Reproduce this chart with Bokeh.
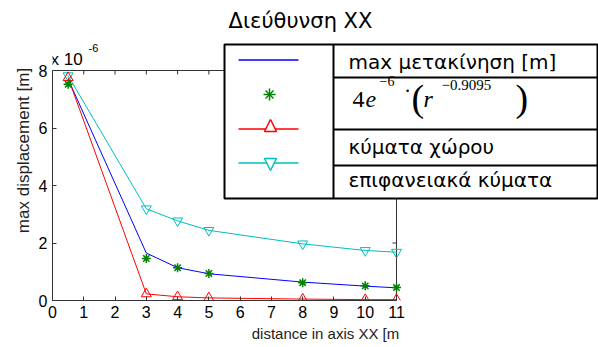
import math
from bokeh.plotting import figure
from bokeh.models import Range1d, Label, PolyAnnotation, FixedTicker
from bokeh.embed import file_html
from bokeh.resources import INLINE

# ---- data (values in units of 1e-6 m) ----
distance = [0.5, 3, 4, 5, 8, 10, 11]
max_disp = [7.70, 1.65, 1.14, 0.93, 0.64, 0.50, 0.44]
fit_vals = [7.52, 1.46, 1.14, 0.94, 0.62, 0.51, 0.45]
body_waves = [7.75, 0.23, 0.13, 0.09, 0.05, 0.03, 0.03]
surface_waves = [7.82, 3.19, 2.77, 2.44, 1.97, 1.74, 1.68]
x_ticks = list(range(12))
y_ticks = [0, 2, 4, 6, 8]
legend_labels = ["max μετακίνηση [m]", "4e−6·(r−0.9095)", "κύματα χώρου", "επιφανειακά κύματα"]
title_text = "Διεύθυνση ΧΧ"
x_label = "distance in axis XX [m"
y_label = "max displacement [m]"

BLUE = "#0000ff"
GREEN = "#008000"
RED = "#ff0000"
CYAN = "#00bfbf"
AXC = "#333333"
FONT = "Liberation Sans"
LFONT = "DejaVu Sans"
SERIF = "Liberation Serif"

# ---- geometry (pixels) ----
W, H = 598, 347
LEFT, BOTTOM_PX = 52, 300          # axes box left edge / bottom edge
AX_W, AX_H = 344, 230              # axes box size
x0, x1 = x_ticks[0], x_ticks[-1]
y0, y1 = y_ticks[0], y_ticks[-1]
frame_w = W - LEFT
frame_h = BOTTOM_PX
x_end = x0 + (x1 - x0) * frame_w / AX_W
y_end = y0 + (y1 - y0) * frame_h / AX_H

p = figure(width=W, height=H, x_range=Range1d(x0, x_end), y_range=Range1d(y0, y_end),
           output_backend="svg", toolbar_location=None,
           min_border_left=LEFT, min_border_right=0, min_border_top=0,
           min_border_bottom=H - BOTTOM_PX)
p.grid.visible = False
p.outline_line_color = None
p.background_fill_color = "white"
p.border_fill_color = "white"

for ax in (p.xaxis[0], p.yaxis[0]):
    ax.axis_line_color = AXC
    ax.major_tick_line_color = AXC
    ax.major_tick_in = 4
    ax.major_tick_out = 0
    ax.minor_tick_line_color = None
    ax.major_label_text_font = FONT
    ax.major_label_text_font_size = "16px"
    ax.major_label_text_color = "black"
    ax.axis_label_text_font = FONT
    ax.axis_label_text_font_style = "normal"
    ax.axis_label_text_color = "#222222"
    ax.major_label_standoff = 5

p.xaxis[0].ticker = FixedTicker(ticks=x_ticks)
p.yaxis[0].ticker = FixedTicker(ticks=y_ticks)
p.xaxis[0].bounds = (x0, x1)
p.yaxis[0].bounds = (y0, y1)
p.xaxis[0].axis_label = x_label
p.yaxis[0].axis_label = y_label
p.xaxis[0].axis_label_text_font_size = "15px"
p.yaxis[0].axis_label_text_font_size = "17px"
p.xaxis[0].axis_label_standoff = 4
p.yaxis[0].axis_label_standoff = 3

# top and right edges of the axes box, with inward ticks
p.line([x0, x1], [y1, y1], color=AXC, line_width=1)
p.line([x1, x1], [y0, y1], color=AXC, line_width=1)
p.ray(x=x_ticks, y=[y1] * len(x_ticks), length=4, length_units="screen",
      angle=-math.pi / 2, color=AXC, line_width=1)
p.ray(x=[x1] * len(y_ticks), y=y_ticks, length=4, length_units="screen",
      angle=math.pi, color=AXC, line_width=1)

# ---- series ----
p.line(distance, surface_waves, color=CYAN, line_width=1)
p.scatter(distance, surface_waves, marker="inverted_triangle", size=10,
          line_color=CYAN, fill_color=None, line_width=1)
p.line(distance, max_disp, color=BLUE, line_width=1)
p.line(distance, body_waves, color=RED, line_width=1)
p.scatter(distance, body_waves, marker="triangle", size=10,
          line_color=RED, fill_color=None, line_width=1)
p.scatter(distance, fit_vals, marker="asterisk", size=9,
          line_color=GREEN, line_width=1.5)

# ---- annotations: positions given in canvas pixels (top-left origin) ----
def sx(x):
    return x - LEFT

def sy(y):
    return BOTTOM_PX - y

def label(x, y, text, size, align="left", font=FONT, style="normal", color="black"):
    # y is the wanted text baseline; compensate for the renderer's baseline offset
    px = float(size.replace("px", ""))
    lab = Label(x=sx(x), y=sy(y - 0.22 * px), x_units="screen", y_units="screen", text=text,
                text_font=font, text_font_size=size, text_align=align,
                text_baseline="alphabetic", text_font_style=style, text_color=color)
    p.add_layout(lab)

def poly(xs, ys, color="black", width=1, fill=None):
    pa = PolyAnnotation(xs=[sx(v) for v in xs], ys=[sy(v) for v in ys],
                        xs_units="screen", ys_units="screen",
                        line_color=color, line_alpha=1.0, line_width=width,
                        fill_color=fill, fill_alpha=1.0 if fill else 0.0)
    p.add_layout(pa)

label(300, 25, title_text, "21px", align="center", font=LFONT)
label(50, 63, "x 10", "17px")
label(88, 50, "-6", "11px")

# legend table
poly([224, 597, 597, 224], [44, 44, 198, 198], fill="white", width=2)
poly([333, 333], [44, 198], width=2)
for yy in (77, 129, 165):
    poly([333, 597], [yy, yy], width=2)

poly([238, 298], [59.5, 59.5], color=BLUE, width=1.5)
# star
poly([263, 275], [94, 94], color=GREEN, width=1.5)
poly([269, 269], [88, 100], color=GREEN, width=1.5)
poly([265, 273], [90, 98], color=GREEN, width=1.5)
poly([265, 273], [98, 90], color=GREEN, width=1.5)
poly([238, 298], [128.5, 128.5], color=RED, width=1.5)
poly([264, 276, 270], [131, 131, 119], color=RED, width=1.5, fill="white")
poly([238, 298], [162.5, 162.5], color=CYAN, width=1.5)
poly([264, 276, 270], [158, 158, 170], color=CYAN, width=1.5, fill="white")

label(348, 66, legend_labels[0], "20px", font=LFONT)
label(348, 151, legend_labels[2], "20px", font=LFONT)
label(348, 184, legend_labels[3], "20px", font=LFONT)
# math expression
label(352, 104, "4", "24px", font=SERIF)
label(365, 104, "e", "24px", font=SERIF, style="italic")
label(379, 84, "−6", "14px", font=SERIF)
label(407, 95, "·", "20px", align="center", font=SERIF)
label(411, 106, "(", "38px", font=SERIF)
label(423, 104, "r", "24px", font=SERIF, style="italic")
label(441, 88, "−0.9095", "15px", font=SERIF)
label(515, 106, ")", "38px", font=SERIF)

open("out.html", "w").write(file_html(p, INLINE))
